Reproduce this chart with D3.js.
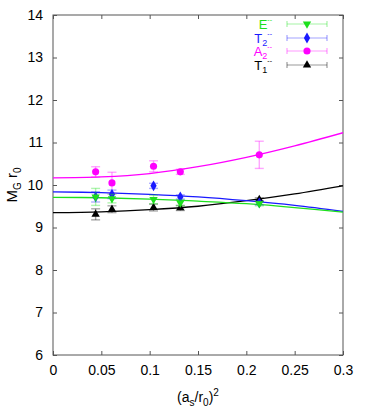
<!DOCTYPE html>
<html lang="en">
<head>
<meta charset="UTF-8">
<title>glueball continuum</title>
<script src="https://cdnjs.cloudflare.com/ajax/libs/d3/7.8.5/d3.min.js"></script>
<style>
  body { margin: 0; background: #fff; }
  svg text { font-family: "Liberation Sans", Arial, sans-serif; }
</style>
</head>
<body>
<div id="chart"></div>
<script>
// lattice spacing (a_s/r0)^2
var xs = [0.0441, 0.061, 0.104, 0.1317, 0.2134];

var eVal  = [9.72, 9.68, 9.66, 9.58, 9.56];
var eErr  = [0.20, 0.10, 0.10, 0.07, 0.05];
var t2Val = [9.72, 9.78, 9.98, 9.72, 9.58];
var t2Err = [0.12, 0.10, 0.06, 0.05, 0.05];
var a2Val = [10.31, 10.05, 10.44, 10.31, 10.71];
var a2Err = [0.12, 0.25, 0.13, 0.06, 0.32];
var t1Val = [9.31, 9.43, 9.47, 9.46, 9.66];
var t1Err = [0.13, 0.08, 0.08, 0.06, 0.04];

// fit curves
var fitX  = [0, 0.05, 0.1, 0.15, 0.2, 0.25, 0.3];
var eFit  = [9.71, 9.70, 9.67, 9.62, 9.56, 9.47, 9.36];
var t2Fit = [9.84, 9.82, 9.78, 9.72, 9.63, 9.52, 9.38];
var a2Fit = [10.17, 10.19, 10.27, 10.43, 10.65, 10.92, 11.23];
var t1Fit = [9.35, 9.37, 9.42, 9.50, 9.63, 9.79, 9.98];

var xTicks = [0, 0.05, 0.1, 0.15, 0.2, 0.25, 0.3];
var yTicks = [6, 7, 8, 9, 10, 11, 12, 13, 14];

var series = [
  { name: "E",  sub: "",  color: "#1de01d", sym: "down", val: eVal,  err: eErr,  fit: eFit },
  { name: "T",  sub: "2", color: "#1a1aff", sym: "diamond", val: t2Val, err: t2Err, fit: t2Fit },
  { name: "A",  sub: "2", color: "#ff00ff", sym: "circle", val: a2Val, err: a2Err, fit: a2Fit },
  { name: "T",  sub: "1", color: "#000000", sym: "up", val: t1Val, err: t1Err, fit: t1Fit }
];

var W = 366, H = 409;
var m = { left: 53, right: 23, top: 15, bottom: 54 };

var svg = d3.select("#chart").append("svg").attr("width", W).attr("height", H);

var x = d3.scaleLinear().domain([0, 0.3]).range([m.left, W - m.right]);
var y = d3.scaleLinear().domain([6, 14]).range([H - m.bottom, m.top]);

svg.append("clipPath").attr("id", "clip").append("rect")
  .attr("x", x(0)).attr("y", y(14)).attr("width", x(0.3) - x(0)).attr("height", y(6) - y(14));

// frame with inward ticks on all sides
var axisColor = "#555";
function styleAxis(g) {
  g.select(".domain").remove();
  g.selectAll(".tick line").attr("stroke", axisColor);
  g.selectAll(".tick text").attr("fill", "#000").style("font-size", "14px");
}
svg.append("g").attr("transform", "translate(0," + y(6) + ")")
  .call(d3.axisBottom(x).tickValues(xTicks).tickSizeInner(-4).tickSizeOuter(0).tickPadding(10)
    .tickFormat(d3.format("~g")))
  .call(styleAxis);
svg.append("g").attr("transform", "translate(0," + y(14) + ")")
  .call(d3.axisTop(x).tickValues(xTicks).tickSizeInner(-4).tickSizeOuter(0).tickFormat(""))
  .call(styleAxis);
svg.append("g").attr("transform", "translate(" + x(0) + ",0)")
  .call(d3.axisLeft(y).tickValues(yTicks).tickSizeInner(-4).tickSizeOuter(0).tickPadding(10))
  .call(styleAxis);
svg.append("g").attr("transform", "translate(" + x(0.3) + ",0)")
  .call(d3.axisRight(y).tickValues(yTicks).tickSizeInner(-4).tickSizeOuter(0).tickFormat(""))
  .call(styleAxis);
svg.append("rect")
  .attr("x", x(0)).attr("y", y(14)).attr("width", x(0.3) - x(0)).attr("height", y(6) - y(14))
  .attr("fill", "none").attr("stroke", axisColor).attr("stroke-width", 1);

// axis titles
var yl = svg.append("text")
  .attr("transform", "translate(17," + y(10) + ") rotate(-90)")
  .attr("text-anchor", "middle").style("font-size", "15px");
yl.append("tspan").text("M");
yl.append("tspan").attr("dy", 4).style("font-size", "10px").text("G");
yl.append("tspan").attr("dy", -4).text(" r");
yl.append("tspan").attr("dy", 4).style("font-size", "10px").text("0");

var xl = svg.append("text")
  .attr("x", (x(0) + x(0.3)) / 2).attr("y", 402)
  .attr("text-anchor", "middle").style("font-size", "14px");
xl.append("tspan").text("(a");
xl.append("tspan").attr("dy", 4).style("font-size", "10px").text("s");
xl.append("tspan").attr("dy", -4).text("/r");
xl.append("tspan").attr("dy", 4).style("font-size", "10px").text("0");
xl.append("tspan").attr("dy", -4).text(")");
xl.append("tspan").attr("dy", -6).style("font-size", "10px").text("2");

var symType = {
  up: d3.symbolTriangle, down: d3.symbolTriangle,
  diamond: d3.symbolDiamond, circle: d3.symbolCircle
};
function marker(g, s) {
  return g.append("path")
    .attr("d", d3.symbol().type(symType[s.sym]).size(s.sym === "circle" ? 40 : s.sym === "diamond" ? 34 : 30))
    .attr("transform", function() { return s.sym === "down" ? "rotate(180)" : null; })
    .attr("fill", s.color);
}

var line = d3.line().curve(d3.curveCatmullRom)
  .x(function(d, i) { return x(fitX[i]); })
  .y(function(d) { return y(d); });

var plot = svg.append("g").attr("clip-path", "url(#clip)");

// fits
[series[3], series[2], series[1], series[0]].forEach(function(s) {
  plot.append("path").datum(s.fit).attr("d", line)
    .attr("fill", "none").attr("stroke", s.color).attr("stroke-width", 1.3);
});

// data: error bars + markers
series.slice().reverse().forEach(function(s) {
  var g = svg.append("g");
  s.val.forEach(function(v, i) {
    var cx = x(xs[i]), top = y(v + s.err[i]), bot = y(v - s.err[i]);
    var eb = g.append("g").attr("stroke", s.color).attr("stroke-opacity", 0.35).attr("stroke-width", 1.4);
    eb.append("line").attr("x1", cx).attr("x2", cx).attr("y1", top).attr("y2", bot);
    eb.append("line").attr("x1", cx - 4.5).attr("x2", cx + 4.5).attr("y1", top).attr("y2", top);
    eb.append("line").attr("x1", cx - 4.5).attr("x2", cx + 4.5).attr("y1", bot).attr("y2", bot);
    var mg = g.append("g").attr("transform", "translate(" + cx + "," + y(v) + ")");
    marker(mg, s);
  });
});

// legend (rows are tight, as in the original)
var legY = [24, 38, 51, 65];
series.forEach(function(s, i) {
  var ly = legY[i];
  var t = svg.append("text").attr("x", 272).attr("y", ly + 5)
    .attr("text-anchor", "end").attr("fill", s.color).style("font-size", "13px");
  t.append("tspan").text(s.name);
  if (s.sub) t.append("tspan").attr("dy", 3).style("font-size", "9px").text(s.sub);
  t.append("tspan").attr("dy", s.sub ? -10 : -7).style("font-size", "7px").text("--");
  var lg = svg.append("g").attr("stroke", s.color).attr("stroke-opacity", 0.4).attr("stroke-width", 1.2);
  lg.append("line").attr("x1", 287).attr("x2", 327).attr("y1", ly).attr("y2", ly);
  lg.append("line").attr("x1", 287).attr("x2", 287).attr("y1", ly - 3).attr("y2", ly + 3);
  lg.append("line").attr("x1", 327).attr("x2", 327).attr("y1", ly - 3).attr("y2", ly + 3);
  var mg = svg.append("g").attr("transform", "translate(307," + ly + ")");
  marker(mg, s);
});
</script>
</body>
</html>
